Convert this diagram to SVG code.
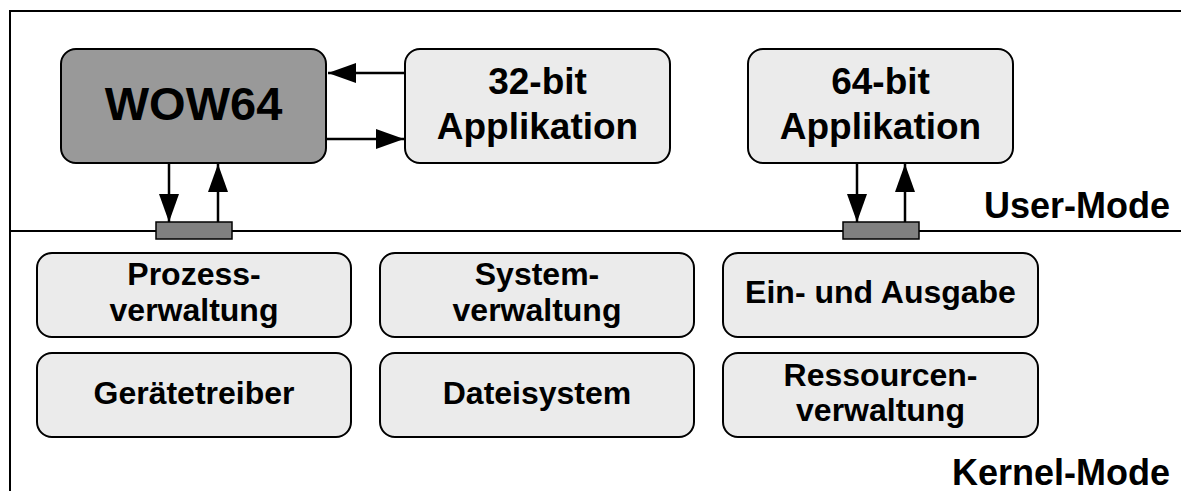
<svg xmlns="http://www.w3.org/2000/svg" width="1181" height="491" viewBox="0 0 1181 491">
<style>
.box{fill:#ebebeb;stroke:#000;stroke-width:2}
.dark{fill:#999999;stroke:#000;stroke-width:2}
.bar{fill:#808080;stroke:#000;stroke-width:1.5}
.t{font-family:"Liberation Sans",Arial,sans-serif;font-weight:bold;fill:#000;text-anchor:middle}
.s{font-size:32px}
.lbl{font-family:"Liberation Sans",Arial,sans-serif;font-weight:bold;fill:#000;text-anchor:end;font-size:36px}
.c{stroke:#000;stroke-width:2.5;fill:none;marker-end:url(#ah)}
.frame{stroke:#000;stroke-width:2;fill:none}
</style>
<defs>
<marker id="ah" markerUnits="userSpaceOnUse" markerWidth="28" markerHeight="20" refX="28" refY="10" orient="auto">
<path d="M0,0 L28,10 L0,20 z" fill="#000"/>
</marker>
</defs>
<rect width="1181" height="491" fill="#fff"/>
<path class="frame" d="M10,491 V11 H1181"/>
<line class="frame" x1="10" y1="231" x2="1181" y2="231"/>
<text class="lbl" x="1170" y="218">User-Mode</text>
<text class="lbl" x="1170" y="485">Kernel-Mode</text>
<g id="connectors">
<line class="c" x1="404" y1="73" x2="328" y2="73"/>
<line class="c" x1="327" y1="139" x2="404" y2="139"/>
<line class="c" x1="169" y1="163" x2="169" y2="222"/>
<line class="c" x1="218" y1="222" x2="218" y2="164"/>
<line class="c" x1="857" y1="163" x2="857" y2="222"/>
<line class="c" x1="905" y1="222" x2="905" y2="164"/>
</g>
<g id="bar1"><rect class="bar" x="156" y="222" width="76" height="17"/></g>
<g id="bar2"><rect class="bar" x="843" y="222" width="76" height="17"/></g>
<g id="wow64"><rect class="dark" x="61" y="49" width="265" height="114" rx="15"/><text class="t" x="193.5" y="120" font-size="47">WOW64</text></g>
<g id="app32"><rect class="box" x="405" y="49" width="265" height="114" rx="15"/><text class="t" x="537.5" y="94" font-size="37">32-bit</text><text class="t" x="537.5" y="139" font-size="37">Applikation</text></g>
<g id="app64"><rect class="box" x="748" y="49" width="265" height="114" rx="15"/><text class="t" x="880.5" y="94" font-size="37">64-bit</text><text class="t" x="880.5" y="139" font-size="37">Applikation</text></g>
<g id="prozess"><rect class="box" x="37" y="253" width="314" height="84" rx="15"/><text class="t s" x="194" y="285">Prozess-</text><text class="t s" x="194" y="321">verwaltung</text></g>
<g id="system"><rect class="box" x="380" y="253" width="314" height="84" rx="15"/><text class="t s" x="537" y="285">System-</text><text class="t s" x="537" y="321">verwaltung</text></g>
<g id="io"><rect class="box" x="723" y="253" width="315" height="84" rx="15"/><text class="t s" x="880.5" y="303">Ein- und Ausgabe</text></g>
<g id="treiber"><rect class="box" x="37" y="353" width="314" height="84" rx="15"/><text class="t s" x="194" y="404">Gerätetreiber</text></g>
<g id="datei"><rect class="box" x="380" y="353" width="314" height="84" rx="15"/><text class="t s" x="537" y="404">Dateisystem</text></g>
<g id="ressourcen"><rect class="box" x="723" y="353" width="315" height="84" rx="15"/><text class="t s" x="880.5" y="386">Ressourcen-</text><text class="t s" x="880.5" y="421">verwaltung</text></g>
</svg>
